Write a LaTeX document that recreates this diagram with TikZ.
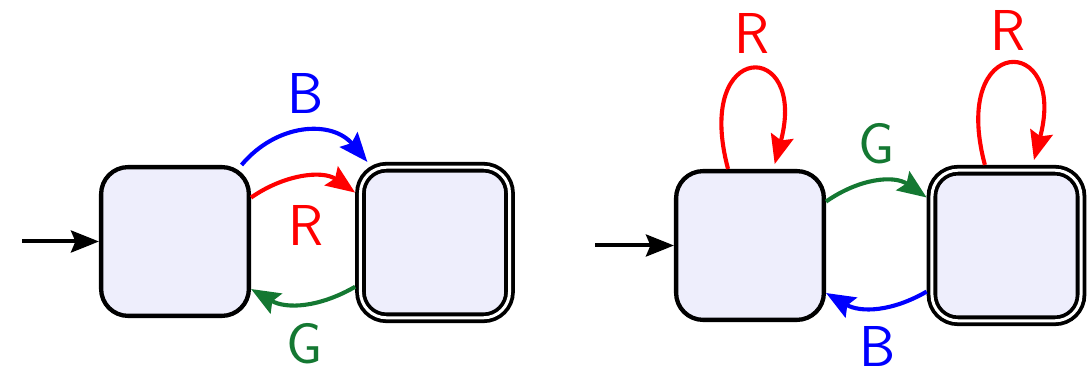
\documentclass[tikz,border=0pt]{standalone}
\usetikzlibrary{arrows.meta}
\definecolor{statefill}{RGB}{238,238,252}
\definecolor{tgreen}{RGB}{20,120,50}
\begin{document}
\begin{tikzpicture}[x=0.01cm,y=-0.01cm,
  lab/.style={inner sep=0pt,font=\fontsize{16.4}{20}\selectfont\sffamily},
  statebox/.style={draw=black,line width=0.043cm,fill=statefill,rounded corners=0.27cm,
    minimum width=1.477cm,minimum height=1.487cm,inner sep=0pt},
  acceptbox/.style={draw=black,line width=0.038cm,double=white,double distance=0.03cm,
    fill=statefill,rounded corners=0.26cm,minimum width=1.49cm,minimum height=1.505cm,
    inner sep=0pt,outer sep=0.053cm},
  edge/.style={line width=0.041cm,-{Stealth[length=0.29cm,width=0.23cm,inset=0.045cm]}},
  initedge/.style={line width=0.04cm,-{Stealth[length=0.28cm,width=0.22cm,inset=0.045cm]}}
]
\useasboundingbox (0,0) rectangle (1087,373);
% states
\node[statebox] (A) at (175,241.5) {};
\node[acceptbox] (B) at (435,242.5) {};
\node[statebox] (C) at (750,245.5) {};
\node[acceptbox] (D) at (1006.5,245.5) {};
% initial arrows
\coordinate (a0) at (22,241.5);
\coordinate (c0) at (595,245.5);
\draw[initedge] (a0) -- (A.west);
\draw[initedge] (c0) -- (C.west);
% left automaton
\draw[edge,blue] (A.49) .. controls +(50:0.55cm) and +(130:0.55cm) .. (B.130);
\draw[edge,red] (A.30) .. controls +(35:0.40cm) and +(145:0.40cm) .. (B.148);
\draw[edge,tgreen] (B.209) .. controls +(210:0.41cm) and +(330:0.41cm) .. (A.328);
% right automaton
\draw[edge,red,shorten >=0.05cm] (C.106) .. controls +(105:1.35cm) and +(75:1.35cm) .. (C.73);
\draw[edge,red,shorten >=0.05cm] (D.105) .. controls +(105:1.37cm) and +(75:1.37cm) .. (D.72);
\draw[edge,tgreen] (C.30) .. controls +(35:0.40cm) and +(145:0.40cm) .. (D.149);
\draw[edge,blue] (D.210) .. controls +(210:0.40cm) and +(330:0.40cm) .. (C.328);
% labels
\node[lab,text=blue] (lB1) at (306,93) {B};
\node[lab,text=red] (lR1) at (306,225) {R};
\node[lab,text=tgreen] (lG1) at (305,344) {G};
\node[lab,text=red] (lR2) at (752,33) {R};
\node[lab,text=red] (lR3) at (1008,30) {R};
\node[lab,text=tgreen] (lG2) at (877,144) {G};
\node[lab,text=blue] (lB2) at (878,346) {B};
\end{tikzpicture}
\end{document}
